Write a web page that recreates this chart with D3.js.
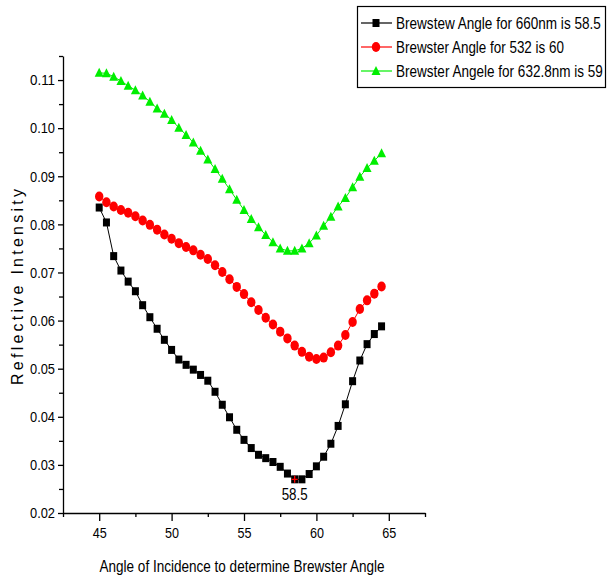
<!DOCTYPE html>
<html>
<head>
<meta charset="utf-8">
<script src="https://cdn.jsdelivr.net/npm/d3@7"></script>
<style>
  body { margin: 0; background: #fff; }
  svg { display: block; }
  .tick text { font-family: "Liberation Sans", Arial, sans-serif; font-size: 15px; fill: #000; }
</style>
</head>
<body>
<div id="chart"></div>
<script>
// angle of incidence (deg)
var angles = [45, 45.5, 46, 46.5, 47, 47.5, 48, 48.5, 49, 49.5, 50, 50.5, 51, 51.5, 52, 52.5, 53, 53.5, 54, 54.5,
  55, 55.5, 56, 56.5, 57, 57.5, 58, 58.5, 59, 59.5, 60, 60.5, 61, 61.5, 62, 62.5, 63, 63.5, 64, 64.5];

var black660 = [0.0835, 0.0804, 0.0734, 0.0704, 0.0681, 0.0661, 0.0632, 0.0607, 0.0583, 0.0560,
  0.0539, 0.0519, 0.0508, 0.0498, 0.0487, 0.0475, 0.0452, 0.0425, 0.0399, 0.0373,
  0.0352, 0.0335, 0.0321, 0.0314, 0.0306, 0.0296, 0.0282, 0.0270, 0.0270, 0.0281,
  0.0297, 0.0317, 0.0344, 0.0381, 0.0426, 0.0474, 0.0517, 0.0551, 0.0572, 0.0588];

var red532 = [0.0858, 0.0846, 0.0837, 0.0830, 0.0824, 0.0817, 0.0808, 0.0799, 0.0789, 0.0779,
  0.0770, 0.0761, 0.0753, 0.0746, 0.0737, 0.0728, 0.0715, 0.0701, 0.0686, 0.0670,
  0.0655, 0.0638, 0.0622, 0.0606, 0.0592, 0.0577, 0.0563, 0.0548, 0.0535, 0.0525,
  0.0520, 0.0523, 0.0534, 0.0548, 0.0570, 0.0597, 0.0624, 0.0642, 0.0656, 0.0671];

var green6328 = [0.1115, 0.1114, 0.1107, 0.1098, 0.1088, 0.1079, 0.1068, 0.1055, 0.1041, 0.1030,
  0.1017, 0.1001, 0.0986, 0.0970, 0.0953, 0.0935, 0.0915, 0.0895, 0.0873, 0.0851,
  0.0830, 0.0811, 0.0794, 0.0778, 0.0763, 0.0750, 0.0745, 0.0745, 0.0750, 0.0761,
  0.0777, 0.0797, 0.0816, 0.0837, 0.0855, 0.0877, 0.0899, 0.0917, 0.0932, 0.0948];

var legendLabels = ['Brewstew Angle for 660nm is 58.5', 'Brewster Angle for 532 is 60', 'Brewster Angele for 632.8nm is 59'];
var xTicks = [45, 50, 55, 60, 65];
var yTicks = [0.02, 0.03, 0.04, 0.05, 0.06, 0.07, 0.08, 0.09, 0.10, 0.11];
var minAngle = 58.5;

var width = 607, height = 584;
var margin = { top: 56, right: 182, bottom: 71, left: 63 };
var font = '"Liberation Sans", Arial, sans-serif';

var x = d3.scaleLinear().domain([42.5, 67.5]).range([margin.left, width - margin.right]);
var y = d3.scaleLinear().domain([0.02, 0.115]).range([height - margin.bottom, margin.top]);

var svg = d3.select('#chart').append('svg')
  .attr('width', width)
  .attr('height', height);

// axes
var xAxis = svg.append('g')
  .attr('transform', 'translate(0,' + y(0.02) + ')')
  .call(d3.axisBottom(x).tickValues(xTicks).tickSize(8).tickSizeOuter(0).tickFormat(d3.format('d')));
xAxis.selectAll('.tick text').attr('dy', '0.95em').attr('textLength', 14).attr('lengthAdjust', 'spacingAndGlyphs');
svg.append('g')
  .attr('transform', 'translate(0,' + y(0.02) + ')')
  .call(d3.axisBottom(x).tickValues(d3.range(42.5, 67.6, 5)).tickSize(4).tickFormat(''))
  .select('.domain').remove();

var yAxis = svg.append('g')
  .attr('transform', 'translate(' + x(42.5) + ',0)')
  .call(d3.axisLeft(y).tickValues(yTicks).tickSize(5).tickSizeOuter(0).tickFormat(d3.format('.2f')));
yAxis.selectAll('.tick text').attr('textLength', 25).attr('lengthAdjust', 'spacingAndGlyphs');
svg.append('g')
  .attr('transform', 'translate(' + x(42.5) + ',0)')
  .call(d3.axisLeft(y).tickValues(d3.range(0.025, 0.1151, 0.01)).tickSize(4).tickFormat(''))
  .select('.domain').remove();

svg.selectAll('.domain, .tick line').attr('stroke', '#000').attr('stroke-width', 1.3);

// axis titles
svg.append('text')
  .attr('x', 242).attr('y', 572)
  .attr('text-anchor', 'middle')
  .attr('textLength', 285).attr('lengthAdjust', 'spacingAndGlyphs')
  .style('font-family', font).style('font-size', '17px')
  .text('Angle of Incidence to determine Brewster Angle');

svg.append('text')
  .attr('transform', 'translate(23,' + 287 + ') rotate(-90)')
  .attr('text-anchor', 'middle')
  .attr('textLength', 196).attr('lengthAdjust', 'spacing')
  .style('font-family', font).style('font-size', '16px')
  .text('Reflective Intensity');

var series = [
  { values: black660, color: '#000000', line: '#000000', shape: 'square' },
  { values: red532, color: '#ff0000', line: '#ff0000', shape: 'circle' },
  { values: green6328, color: '#00ee00', line: '#00ee00', shape: 'triangle' }
];

var line = d3.line()
  .x(function(d) { return x(d[0]); })
  .y(function(d) { return y(d[1]); });

function drawMarker(g, shape, color) {
  if (shape === 'square') {
    g.append('rect').attr('x', -3.5).attr('y', -4).attr('width', 7).attr('height', 8).attr('fill', color);
  } else if (shape === 'circle') {
    g.append('ellipse').attr('rx', 4.2).attr('ry', 5).attr('fill', color);
  } else {
    g.append('path').attr('d', 'M0,-5L4.5,4L-4.5,4Z').attr('fill', color);
  }
}

series.forEach(function(s) {
  var pts = angles.map(function(a, i) { return [a, s.values[i]]; });
  svg.append('path')
    .datum(pts)
    .attr('d', line)
    .attr('fill', 'none')
    .attr('stroke', s.line)
    .attr('stroke-width', 1);
  pts.forEach(function(p) {
    var g = svg.append('g').attr('transform', 'translate(' + x(p[0]) + ',' + y(p[1]) + ')');
    drawMarker(g, s.shape, s.color);
  });
});

// minimum marker for 660nm
var mi = angles.indexOf(minAngle);
var mx = x(minAngle), my = y(black660[mi]);
svg.append('path')
  .attr('d', 'M' + (mx - 3) + ',' + my + 'H' + (mx + 3) + 'M' + mx + ',' + (my - 3.5) + 'V' + (my + 3.5))
  .attr('stroke', '#ff0000').attr('stroke-width', 1.3);
svg.append('text')
  .attr('x', mx).attr('y', my + 21)
  .attr('text-anchor', 'middle')
  .attr('textLength', 26).attr('lengthAdjust', 'spacingAndGlyphs')
  .style('font-family', font).style('font-size', '16px')
  .text(minAngle);

// legend
var legend = svg.append('g');
legend.append('rect')
  .attr('x', 357.5).attr('y', 6.5).attr('width', 248).attr('height', 81)
  .attr('fill', '#fff').attr('stroke', '#000').attr('stroke-width', 1.2);
var rowY = [23, 47, 71];
var rowLen = [205, 168, 207];
series.forEach(function(s, i) {
  var r = legend.append('g').attr('transform', 'translate(0,' + rowY[i] + ')');
  r.append('line').attr('x1', 361).attr('x2', 392).attr('y1', 0).attr('y2', 0)
    .attr('stroke', s.line).attr('stroke-width', 1.2);
  drawMarker(r.append('g').attr('transform', 'translate(376,0)'), s.shape, s.color);
  var t = r.append('text')
    .attr('x', 0).attr('y', 6)
    .style('font-family', font).style('font-size', '17px')
    .text(legendLabels[i]);
  var w = t.node().getComputedTextLength();
  t.attr('transform', 'translate(396,0) scale(' + (rowLen[i] / w) + ',1)');
});
</script>
</body>
</html>
